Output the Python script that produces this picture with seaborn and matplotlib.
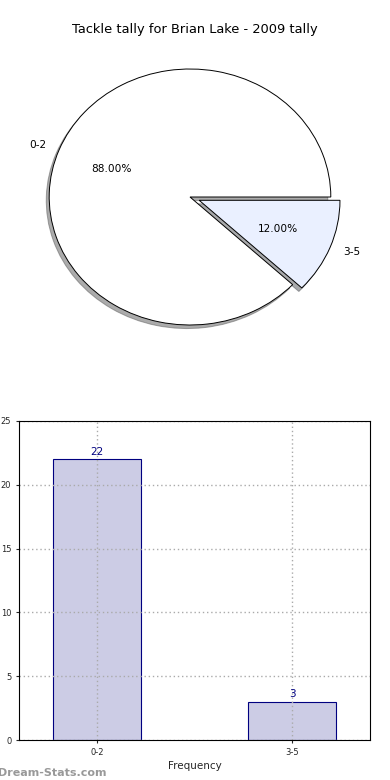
import matplotlib
matplotlib.use("Agg")
import matplotlib.pyplot as plt
import seaborn as sns

# --------------------------------------------------
# DATA
# --------------------------------------------------

title = "Tackle tally for Brian Lake - 2009 tally"
ranges = ["0-2", "3-5"]
games = [22, 3]
share = [88.0, 12.0]

sns.set_style("white")
plt.rcParams["font.family"] = ["DejaVu Sans"]

fig = plt.figure(figsize=(3.9, 7.8), dpi=100)

# --------------------------------------------------
# PIE
# --------------------------------------------------

ax1 = fig.add_axes([14 / 390, 1 - 357 / 780, 352 / 390, 320 / 780])
wedges, texts, autotexts = ax1.pie(
    share,
    labels=ranges,
    colors=["white", "#eaf0ff"],
    explode=[0, 0.07],
    autopct="%1.2f%%",
    shadow={"ox": -0.015, "oy": -0.02, "shade": 0.65},
    startangle=0,
    wedgeprops={"edgecolor": "black", "linewidth": 0.7},
    textprops={"fontsize": 7.6, "color": "black"},
)
ax1.set_aspect("auto")
ax1.set_xlim(-1.25, 1.25)
ax1.set_ylim(-1.25, 1.25)
fig.text(0.5, 1 - 30 / 780, title, ha="center", va="center", fontsize=9.4,
         color="black")

# --------------------------------------------------
# BARS
# --------------------------------------------------

ax2 = fig.add_axes([19 / 390, 1 - 740 / 780, 351 / 390, 319 / 780])
sns.barplot(
    x=ranges,
    y=games,
    color="#ccccE5",
    saturation=1,
    edgecolor="navy",
    linewidth=0.8,
    width=0.45,
    ax=ax2,
)
for i, v in enumerate(games):
    ax2.text(i, v + 0.2, str(v), ha="center", va="bottom", color="navy", fontsize=7.5)

ax2.set_xlim(-0.4, 1.4)
ax2.set_ylim(0, 25)
ax2.set_yticks([0, 5, 10, 15, 20, 25])
ax2.grid(True, linestyle=(0, (1, 2)), color="#aaaaaa", linewidth=1)
ax2.set_axisbelow(False)
for s in ax2.spines.values():
    s.set_color("black")
    s.set_linewidth(0.8)
    s.set_zorder(5)
ax2.tick_params(labelsize=6, length=2, left=True, bottom=True)
ax2.set_xlabel("Frequency", fontsize=7.5, labelpad=3)
ax2.set_ylabel("Number of Games", fontsize=7, labelpad=8)

fig.text(-0.005, 2 / 780, "Dream-Stats.com", ha="left", va="bottom",
         color="#999999", fontsize=8, fontweight="bold")

fig.savefig("out.png", dpi=100)
